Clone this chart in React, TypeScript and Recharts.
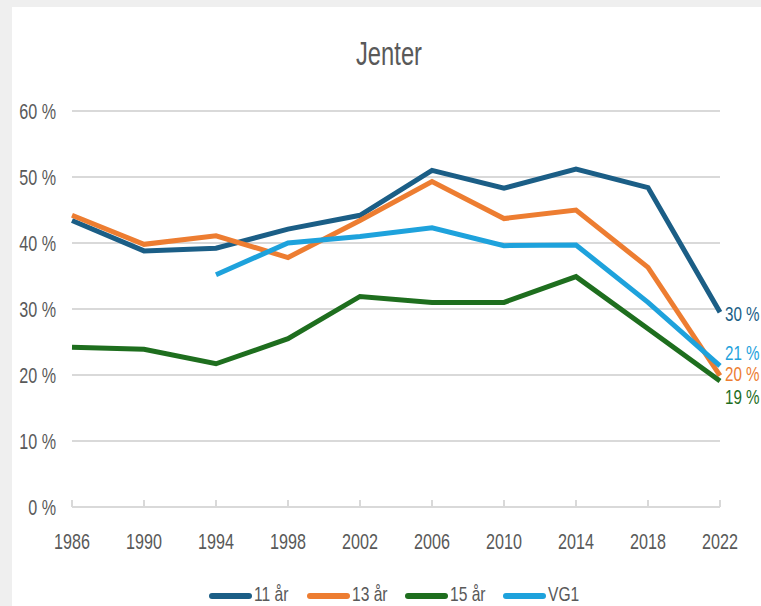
import React from 'react';
import { LineChart, Line, XAxis, YAxis, CartesianGrid, LabelList } from 'recharts';

const years = ['1986', '1990', '1994', '1998', '2002', '2006', '2010', '2014', '2018', '2022'];
const s11 = [43.4, 38.8, 39.2, 42.1, 44.2, 51.0, 48.3, 51.2, 48.4, 29.5];
const s13 = [44.2, 39.8, 41.1, 37.8, 43.4, 49.3, 43.7, 45.0, 36.3, 19.9];
const s15 = [24.2, 23.9, 21.7, 25.5, 31.9, 31.0, 31.0, 34.9, 27.0, 19.1];
const vg1 = [null, null, 35.2, 40.0, 41.0, 42.3, 39.6, 39.7, 31.0, 21.4];
const yTicks = [0, 10, 20, 30, 40, 50, 60];
const seriesNames = ['11 år', '13 år', '15 år', 'VG1'];
const title = 'Jenter';

const data = years.map((y, i) => ({ year: y, a: s11[i], b: s13[i], c: s15[i], d: vg1[i] }));

const FONT = '"Liberation Sans", Arial, sans-serif';
const GREY = '#595959';
const GRID = '#d9d9d9';
const SX = 0.75;
const FS = 21.5;

const series = [
  { key: 'a', name: seriesNames[0], color: '#1b5e86', labelDy: 2 },
  { key: 'b', name: seriesNames[1], color: '#ed7d31', labelDy: -1 },
  { key: 'c', name: seriesNames[2], color: '#1e6e1e', labelDy: 16.5 },
  { key: 'd', name: seriesNames[3], color: '#1ea2dc', labelDy: -12.5 },
];

const NText = (props: any) => {
  const { x, y, anchor = 'start', size = FS, fill = GREY, sx = SX, children } = props;
  return (
    <text
      transform={`translate(${x} ${y}) scale(${sx} 1)`}
      x={0}
      y={0}
      textAnchor={anchor}
      dominantBaseline="central"
      fontSize={size}
      fill={fill}
      fontFamily={FONT}
    >
      {children}
    </text>
  );
};

const XTick = (props: any) => {
  const { x, y, payload } = props;
  return (
    <g>
      <line x1={x} x2={x} y1={y} y2={y - 7} stroke={GRID} strokeWidth={2} />
      <NText x={x} y={y + 34.5} anchor="middle">{payload.value}</NText>
    </g>
  );
};

const YTick = (props: any) => {
  const { x, y, payload } = props;
  return <NText x={x} y={y + 1} anchor="end">{`${payload.value} %`}</NText>;
};

const makeEndLabel = (color: string, dy: number) => (props: any) => {
  const { x, y, value, index } = props;
  if (index !== years.length - 1 || value == null) return null;
  return (
    <NText x={x + 5} y={y + dy} fill={color} size={20} sx={0.76}>
      {`${Math.round(value)} %`}
    </NText>
  );
};

export default function App() {
  return (
    <div style={{ position: 'absolute', left: 0, top: 0, width: 761, height: 606, background: '#efefef', overflow: 'hidden' }}>
      <div style={{ position: 'absolute', left: 12, top: 7, width: 749, height: 599, background: '#ffffff' }} />
      <div style={{ position: 'absolute', left: 0, top: 0 }}>
        <LineChart width={761} height={606} data={data} margin={{ top: 111, right: 41, bottom: 49, left: 0 }}>
          <CartesianGrid vertical={false} stroke={GRID} strokeWidth={2} />
          <XAxis
            dataKey="year"
            interval={0}
            height={50}
            tickSize={0}
            tickMargin={0}
            tickLine={false}
            axisLine={{ stroke: GRID, strokeWidth: 2 }}
            tick={<XTick />}
          />
          <YAxis
            width={72}
            domain={[0, 60]}
            ticks={yTicks}
            tickSize={0}
            tickMargin={16}
            tickLine={false}
            axisLine={false}
            tick={<YTick />}
          />
          {series.map((s) => (
            <Line
              key={s.key}
              type="linear"
              dataKey={s.key}
              name={s.name}
              stroke={s.color}
              strokeWidth={5}
              dot={false}
              isAnimationActive={false}
            >
              <LabelList dataKey={s.key} content={makeEndLabel(s.color, s.labelDy)} />
            </Line>
          ))}
        </LineChart>
      </div>
      <svg width={761} height={606} style={{ position: 'absolute', left: 0, top: 0, pointerEvents: 'none' }}>
        <NText x={389} y={54} anchor="middle" size={33} sx={0.72}>{title}</NText>
        {series.map((s, i) => {
          const x0 = 209 + i * 98;
          return (
            <g key={s.key}>
              <line x1={x0 + 3} x2={x0 + 40} y1={596} y2={596} stroke={s.color} strokeWidth={6} strokeLinecap="round" />
              <NText x={x0 + 45} y={594.5} size={20} sx={0.78}>{s.name}</NText>
            </g>
          );
        })}
      </svg>
    </div>
  );
}
